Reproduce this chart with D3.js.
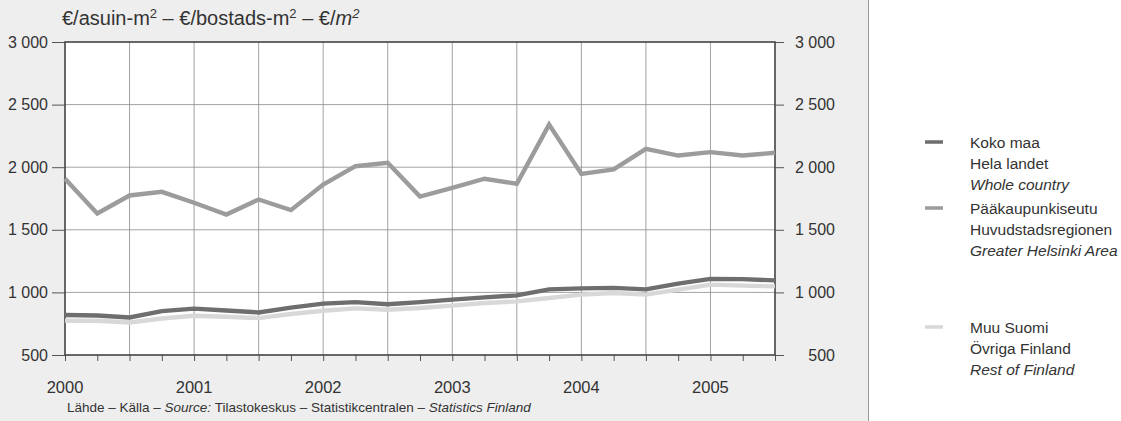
<!DOCTYPE html>
<html><head><meta charset="utf-8">
<script src="https://cdn.jsdelivr.net/npm/d3@7"></script>
<style>
body{margin:0;padding:0;background:#fff;}
svg{display:block;font-family:"Liberation Sans",Arial,sans-serif;}
</style></head>
<body><svg id="c" width="1121" height="421"></svg>
<script>
const quarters = ["2000Q1","2000Q2","2000Q3","2000Q4","2001Q1","2001Q2","2001Q3","2001Q4",
  "2002Q1","2002Q2","2002Q3","2002Q4","2003Q1","2003Q2","2003Q3","2003Q4",
  "2004Q1","2004Q2","2004Q3","2004Q4","2005Q1","2005Q2","2005Q3"];
const kokoMaa = [819,816,800,850,870,856,840,878,910,922,905,922,942,960,976,1024,1032,1036,1024,1070,1108,1106,1096];
const helsinki = [1907,1630,1774,1803,1716,1622,1742,1657,1862,2008,2035,1765,1835,1908,1868,2340,1947,1982,2147,2093,2120,2093,2115];
const muuSuomi = [773,773,760,792,813,806,795,827,853,872,862,875,894,915,928,955,982,995,982,1022,1062,1054,1048];
const yTicks = [500,1000,1500,2000,2500,3000];
const yearLabels = ["2000","2001","2002","2003","2004","2005"];
const legendLabels = [
  ["Koko maa","Hela landet","Whole country"],
  ["Pääkaupunkiseutu","Huvudstadsregionen","Greater Helsinki Area"],
  ["Muu Suomi","Övriga Finland","Rest of Finland"]
];

const svg = d3.select("#c");
const W = 1121, H = 421;
const L = 65, R = 775, T = 42, B = 355;

svg.append("rect").attr("x",0).attr("y",0).attr("width",868).attr("height",H).attr("fill","#eeeeee");
svg.append("rect").attr("x",868).attr("y",0).attr("width",W-868).attr("height",H).attr("fill","#ffffff");
svg.append("line").attr("x1",868.5).attr("x2",868.5).attr("y1",0).attr("y2",H).attr("stroke","#9a9a9a").attr("stroke-width",1);

const tq = q => +q.slice(0,4) + (+q.slice(5)-1)*0.25;
const x = d3.scaleLinear().domain([2000,2005.5]).range([L,R]);
const y = d3.scaleLinear().domain([500,3000]).range([B,T]);

svg.append("rect").attr("x",L).attr("y",T).attr("width",R-L).attr("height",B-T).attr("fill","#fff");

const vgrid = d3.range(1,11).map(i=>2000+i*0.5);
svg.append("g").selectAll("line").data(vgrid).join("line")
  .attr("x1",d=>x(d)).attr("x2",d=>x(d)).attr("y1",T).attr("y2",B)
  .attr("stroke","#8a8a8a").attr("stroke-width",0.8);
svg.append("g").selectAll("line").data(yTicks.slice(1,-1)).join("line")
  .attr("x1",L).attr("x2",R).attr("y1",d=>y(d)).attr("y2",d=>y(d))
  .attr("stroke","#8a8a8a").attr("stroke-width",0.8);

const fmt = d=>d3.format(",")(d).replace(","," ");
const yl = d3.axisLeft(y).tickValues(yTicks).tickSize(13).tickPadding(4).tickFormat(fmt);
const gL = svg.append("g").attr("transform",`translate(${L},0)`).call(yl);
const yr = d3.axisRight(y).tickValues(yTicks).tickSize(9).tickPadding(4).tickFormat(fmt);
const gR = svg.append("g").attr("transform",`translate(${R},0)`).call(yr);
gR.selectAll(".tick text").attr("text-anchor","end").attr("x",60);
const xb = d3.axisBottom(x).tickValues(d3.range(0,23).map(i=>2000+i*0.25)).tickSize(6).tickFormat("");
const gB = svg.append("g").attr("transform",`translate(0,${B})`).call(xb);
[gL,gR,gB].forEach(g=>{
  g.select(".domain").remove();
  g.selectAll(".tick line").attr("stroke","#555").attr("stroke-width",1);
  g.selectAll(".tick text").attr("fill","#333").style("font-size","16px")
    .style("font-family",null);
});
svg.append("g").selectAll("text").data(yearLabels).join("text")
  .attr("x",d=>x(+d)).attr("y",393).attr("text-anchor","middle")
  .attr("fill","#333").style("font-size","16.5px").text(d=>d);

svg.append("rect").attr("x",L).attr("y",T).attr("width",R-L).attr("height",B-T)
  .attr("fill","none").attr("stroke","#444").attr("stroke-width",1.6);

const line = vals => d3.line().x((d,i)=>x(tq(quarters[i]))).y(d=>y(d))(vals);
const series = [
  {vals:muuSuomi, color:"#d8d8d8"},
  {vals:kokoMaa, color:"#6e6e6e"},
  {vals:helsinki, color:"#9c9c9c"}
];
svg.append("g").selectAll("path").data(series).join("path")
  .attr("d",d=>line(d.vals)).attr("fill","none").attr("stroke",d=>d.color)
  .attr("stroke-width",4.4).attr("stroke-linejoin","miter");

const title = svg.append("text").attr("x",62).attr("y",25).attr("fill","#333").style("font-size","20px");
title.append("tspan").text("€/asuin-m");
title.append("tspan").attr("dy",-7).style("font-size","13px").text("2");
title.append("tspan").attr("dy",7).text(" – €/bostads-m");
title.append("tspan").attr("dy",-7).style("font-size","13px").text("2");
title.append("tspan").attr("dy",7).text(" – €/");
title.append("tspan").style("font-style","italic").text("m");
title.append("tspan").attr("dy",-7).style("font-size","13px").style("font-style","italic").text("2");

const src = svg.append("text").attr("x",67).attr("y",412).attr("fill","#333").style("font-size","13.5px");
src.append("tspan").text("Lähde – Källa – ");
src.append("tspan").style("font-style","italic").text("Source:");
src.append("tspan").text(" Tilastokeskus – Statistikcentralen – ");
src.append("tspan").style("font-style","italic").text("Statistics Finland");

const legColors = ["#6e6e6e","#9c9c9c","#d8d8d8"];
const legY = [142,208,327];
legendLabels.forEach((lab,k)=>{
  svg.append("line").attr("x1",925).attr("x2",943).attr("y1",legY[k]).attr("y2",legY[k])
    .attr("stroke",legColors[k]).attr("stroke-width",3.5);
  lab.forEach((t,j)=>{
    svg.append("text").attr("x",970).attr("y",legY[k]+6+j*21).attr("fill","#333")
      .style("font-size","15.5px").style("font-style",j===2?"italic":"normal").text(t);
  });
});
</script></body></html>
